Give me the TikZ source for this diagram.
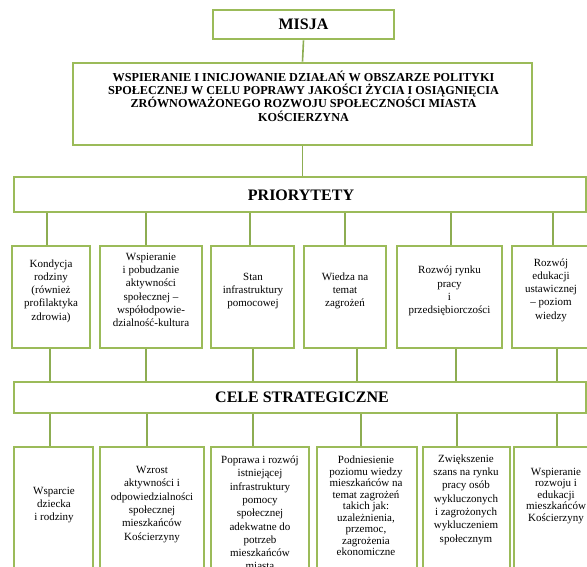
\documentclass[tikz,border=0pt]{standalone}
\usepackage{fontspec}
\setmainfont{Liberation Serif}
\definecolor{boxgreen}{HTML}{9BBB59}
\definecolor{linegreen}{HTML}{8DAD52}
\tikzset{
  gbox/.style={draw=boxgreen, line width=2.6pt, fill=white, inner sep=0pt},
  conn/.style={draw=linegreen, line width=1.6pt},
  headtxt/.style={font=\fontsize{16}{18}\selectfont\bfseries, inner sep=0pt},
  misstxt/.style={font=\fontsize{12.2}{13.4}\selectfont\bfseries, align=center, inner sep=0pt},
  boxtxt/.style={font=\fontsize{11}{13.3}\selectfont, align=center, inner sep=0pt},
  tighttxt/.style={font=\fontsize{11}{11.5}\selectfont, align=center, inner sep=0pt}
}
\begin{document}
\begin{tikzpicture}[x=1pt,y=-1pt]
\useasboundingbox (0,0) rectangle (587,566);
\clip (0,0) rectangle (587,566);
\fill[white] (0,0) rectangle (587,566);
% connectors first (behind boxes)
% boxes
\node[gbox, minimum width=181pt, minimum height=29pt] (misja) at (303.5,24.5) {};
\node[headtxt] (misjat) at (303.5,24.5) {MISJA};
\node[gbox, minimum width=459pt, minimum height=82pt] (mis) at (302.5,104) {};
\node[misstxt] (mist) at (303.5,96) {WSPIERANIE I INICJOWANIE DZIAŁAŃ W OBSZARZE POLITYKI\\SPOŁECZNEJ W CELU POPRAWY JAKOŚCI ŻYCIA I OSIĄGNIĘCIA\\ZRÓWNOWAŻONEGO ROZWOJU SPOŁECZNOŚCI MIASTA\\KOŚCIERZYNA};
\node[gbox, minimum width=572pt, minimum height=35pt] (prio) at (300,194.5) {};
\node[headtxt] (priot) at (301,195) {PRIORYTETY};
% priority boxes
\node[gbox, minimum width=78pt, minimum height=102pt] (p1) at (51,297) {};
\node[gbox, minimum width=102pt, minimum height=102pt] (p2) at (151,297) {};
\node[gbox, minimum width=83pt, minimum height=102pt] (p3) at (252.5,297) {};
\node[gbox, minimum width=82pt, minimum height=102pt] (p4) at (345,297) {};
\node[gbox, minimum width=105pt, minimum height=102pt] (p5) at (449.5,297) {};
\node[gbox, minimum width=78pt, minimum height=102pt] (p6) at (551,297) {};
\node[boxtxt] (p1t) at (51,291) {Kondycja\\rodziny\\(również\\profilaktyka\\zdrowia)};
\node[boxtxt] (p2t) at (151,290) {Wspieranie\\i pobudzanie\\aktywności\\społecznej –\\współodpowie-\\dzialność-kultura};
\node[boxtxt] (p3t) at (253,291) {Stan\\infrastruktury\\pomocowej};
\node[boxtxt] (p4t) at (345,291) {Wiedza na\\temat\\zagrożeń};
\node[boxtxt] (p5t) at (449.5,291) {Rozwój rynku\\pracy\\i\\przedsiębiorczości};
\node[boxtxt] (p6t) at (551,290) {Rozwój\\edukacji\\ustawicznej\\– poziom\\wiedzy};
% cele bar
\node[gbox, minimum width=572pt, minimum height=31pt] (cele) at (300,397.5) {};
\node[headtxt] (celet) at (302,397.5) {CELE STRATEGICZNE};
% cele boxes
\node[gbox, minimum width=79pt, minimum height=153pt] (c1) at (53.5,523.5) {};
\node[gbox, minimum width=104pt, minimum height=153pt] (c2) at (152,523.5) {};
\node[gbox, minimum width=98pt, minimum height=153pt] (c3) at (260,523.5) {};
\node[gbox, minimum width=100pt, minimum height=153pt] (c4) at (367,523.5) {};
\node[gbox, minimum width=87pt, minimum height=153pt] (c5) at (466.5,523.5) {};
\node[gbox, minimum width=82pt, minimum height=153pt] (c6) at (555,523.5) {};
\node[boxtxt] (c1t) at (54,505) {Wsparcie\\dziecka\\i rodziny};
\node[boxtxt] (c2t) at (152,504.5) {Wzrost\\aktywności i\\odpowiedzialności\\społecznej\\mieszkańców\\Kościerzyny};
\node[boxtxt] (c3t) at (260,513) {Poprawa i rozwój\\istniejącej\\infrastruktury\\pomocy\\społecznej\\adekwatne do\\potrzeb\\mieszkańców\\miasta};
\node[tighttxt] (c4t) at (366,506) {Podniesienie\\poziomu wiedzy\\mieszkańców na\\temat zagrożeń\\takich jak:\\uzależnienia,\\przemoc,\\zagrożenia\\ekonomiczne};
\node[boxtxt] (c5t) at (466,499.5) {Zwiększenie\\szans na rynku\\pracy osób\\wykluczonych\\i zagrożonych\\wykluczeniem\\społecznym};
\node[tighttxt] (c6t) at (556,496) {Wspieranie\\rozwoju i\\edukacji\\mieszkańców\\Kościerzyny};
% connectors
\draw[conn] (misja.south) -- (mis.north);
\draw[conn] (mis.south) -- (mis.south |- prio.north);
\foreach \n/\d in {p1/-4,p2/-5,p3/-2.5,p4/0,p5/1.5,p6/2}{
  \draw[conn] ([xshift=\d pt]\n.north) -- ([xshift=\d pt]\n.north |- prio.south);
}
\foreach \n/\d in {p1/-1,p2/-5,p3/0.5,p4/12,p5/6.5,p6/6}{
  \draw[conn] ([xshift=\d pt]\n.south) -- ([xshift=\d pt]\n.south |- cele.north);
}
\foreach \n/\d in {c1/-3.5,c2/-5,c3/-7,c4/-6,c5/-9.5,c6/2}{
  \draw[conn] ([xshift=\d pt]\n.north) -- ([xshift=\d pt]\n.north |- cele.south);
}
\end{tikzpicture}
\end{document}
